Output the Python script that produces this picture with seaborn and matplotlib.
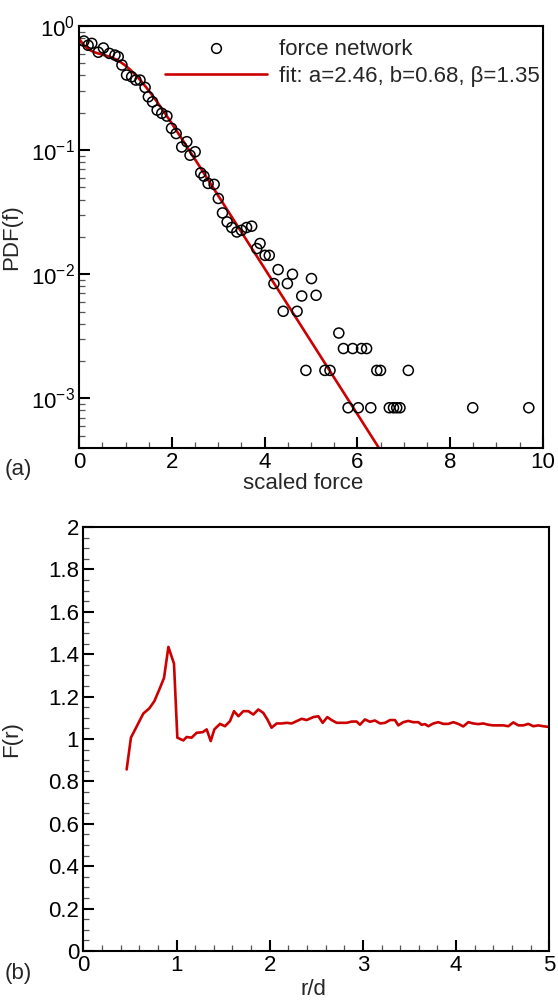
import numpy as np
import pandas as pd
import seaborn as sns
import matplotlib
matplotlib.use("Agg")
import matplotlib.pyplot as plt
from matplotlib.ticker import MultipleLocator, LogLocator, NullFormatter, FormatStrFormatter
from matplotlib.lines import Line2D

# ---------------- data: panel (a) ----------------
force_x = [0.10, 0.19, 0.27, 0.41, 0.52, 0.65, 0.77, 0.84, 0.92, 1.02, 1.13, 1.22, 1.31,
           1.42, 1.49, 1.58, 1.68, 1.78, 1.89, 1.99, 2.09, 2.21, 2.32, 2.39, 2.50, 2.62,
           2.69, 2.78, 2.91, 3.00, 3.09, 3.19, 3.29, 3.40, 3.50, 3.61, 3.72, 3.83, 3.90,
           4.01, 4.10, 4.20, 4.29, 4.40, 4.49, 4.60, 4.70, 4.80, 4.89, 5.01, 5.11, 5.30,
           5.41, 5.60, 5.70, 5.90, 6.09, 6.20, 6.42, 6.50, 7.10,
           5.80, 6.02, 6.29, 6.69, 6.78, 6.85, 6.92, 8.49, 9.70]
force_pdf = [0.757, 0.70, 0.725, 0.615, 0.665, 0.602, 0.583, 0.566, 0.485, 0.403, 0.390,
             0.367, 0.367, 0.320, 0.269, 0.245, 0.210, 0.198, 0.188, 0.150, 0.136, 0.106,
             0.117, 0.091, 0.097, 0.0656, 0.0617, 0.0539, 0.0530, 0.0408, 0.0312, 0.0264,
             0.0238, 0.0219, 0.0226, 0.0238, 0.0244, 0.0161, 0.0177, 0.0142, 0.0142,
             0.00841, 0.0109, 0.00503, 0.00841, 0.0100, 0.00503, 0.00668, 0.00168,
             0.00923, 0.00677, 0.00168, 0.00168, 0.00336, 0.00252, 0.00252, 0.00252,
             0.00252, 0.00168, 0.00168, 0.00168,
             0.00084, 0.00084, 0.00084, 0.00084, 0.00084, 0.00084, 0.00084, 0.00084, 0.00084]

fit_a, fit_b, fit_beta = 2.46, 0.68, 1.35

# ---------------- data: panel (b) ----------------
r_d = [0.465, 0.511, 0.644, 0.708, 0.762, 0.823, 0.866, 0.913, 0.973, 1.009, 1.073, 1.109,
       1.162, 1.216, 1.281, 1.324, 1.367, 1.406, 1.467, 1.520, 1.574, 1.617, 1.664, 1.717,
       1.771, 1.824, 1.878, 1.931, 1.975, 2.020, 2.075, 2.129, 2.182, 2.236, 2.289, 2.343,
       2.396, 2.468, 2.522, 2.568, 2.618, 2.664, 2.719, 2.772, 2.826, 2.880, 2.933, 2.968,
       3.022, 3.076, 3.129, 3.184, 3.237, 3.291, 3.344, 3.380, 3.433, 3.487, 3.540, 3.595,
       3.630, 3.666, 3.702, 3.756, 3.809, 3.863, 3.917, 3.970, 4.024, 4.077, 4.131, 4.184,
       4.238, 4.292, 4.345, 4.399, 4.453, 4.507, 4.560, 4.614, 4.668, 4.721, 4.775, 4.828,
       4.882, 4.935, 4.989]
F_r = [0.856, 1.006, 1.120, 1.144, 1.178, 1.241, 1.288, 1.434, 1.355, 1.006, 0.993, 1.009,
       1.006, 1.029, 1.032, 1.045, 0.990, 1.045, 1.071, 1.060, 1.084, 1.131, 1.107, 1.131,
       1.131, 1.115, 1.139, 1.123, 1.092, 1.053, 1.073, 1.073, 1.076, 1.073, 1.084, 1.095,
       1.089, 1.103, 1.107, 1.076, 1.103, 1.089, 1.076, 1.076, 1.076, 1.082, 1.082, 1.067,
       1.092, 1.081, 1.087, 1.073, 1.076, 1.089, 1.089, 1.064, 1.079, 1.085, 1.079, 1.079,
       1.067, 1.070, 1.060, 1.073, 1.079, 1.071, 1.071, 1.079, 1.071, 1.059, 1.079, 1.073,
       1.070, 1.073, 1.067, 1.064, 1.064, 1.064, 1.060, 1.078, 1.064, 1.064, 1.071, 1.060,
       1.064, 1.060, 1.057]

RED = "#cc0000"

sns.set_style("ticks")
plt.rcParams["font.family"] = ["Liberation Sans", "DejaVu Sans"]
plt.rcParams["mathtext.fontset"] = "custom"
plt.rcParams["mathtext.rm"] = "Liberation Sans"
plt.rcParams["mathtext.it"] = "Liberation Sans:italic"
plt.rcParams["mathtext.default"] = "regular"
plt.rcParams["axes.unicode_minus"] = False

FS = 16

fig = plt.figure(figsize=(5.58, 10.01), dpi=100)
ax1 = fig.add_axes([0.1421, 0.5527, 0.8305, 0.4213])
ax2 = fig.add_axes([0.1493, 0.0500, 0.8351, 0.4236])

# ---- panel (a) ----
df_pts = pd.DataFrame({"f": force_x, "pdf": force_pdf})
f_fit = np.linspace(0, 10, 500)
pdf_fit = fit_a * (1 - fit_b * np.exp(-f_fit ** 2)) * np.exp(-fit_beta * f_fit)
df_fit = pd.DataFrame({"f": f_fit, "pdf": pdf_fit})

sns.lineplot(data=df_fit, x="f", y="pdf", ax=ax1, color=RED, linewidth=1.9, zorder=2)
sns.scatterplot(data=df_pts, x="f", y="pdf", ax=ax1, marker="o", s=52,
                facecolor="none", edgecolor="black", linewidth=1.1, zorder=3)
ax1.set_yscale("log")
ax1.set_xlim(0, 10)
ax1.set_ylim(4e-4, 1)
ax1.xaxis.set_major_locator(MultipleLocator(2))
ax1.xaxis.set_minor_locator(MultipleLocator(0.5))
ax1.yaxis.set_major_locator(LogLocator(base=10, numticks=10))
ax1.yaxis.set_minor_locator(LogLocator(base=10, subs=np.arange(2, 10), numticks=20))
ax1.yaxis.set_minor_formatter(NullFormatter())
ax1.set_xlabel("scaled force", fontsize=FS)
ax1.set_ylabel("PDF(f)", fontsize=FS)
ax1.xaxis.set_label_coords(0.483, -0.060)
ax1.yaxis.set_label_coords(-0.124, 0.5)

handles = [Line2D([], [], linestyle="none", marker="o", markersize=7.0,
                  markerfacecolor="none", markeredgecolor="black", markeredgewidth=1.1),
           Line2D([], [], color=RED, linewidth=1.9)]
labels = ["force network",
          f"fit: a={fit_a:.2f}, b={fit_b:.2f}, \u03b2={fit_beta:.2f}"]
ax1.legend(handles, labels, loc="upper right", frameon=False, fontsize=FS,
           handlelength=4.6, handletextpad=0.55, labelspacing=0.25,
           borderaxespad=0.3, borderpad=0.3, bbox_to_anchor=(1.023, 1.0))

# ---- panel (b) ----
df_r = pd.DataFrame({"r": r_d, "F": F_r})
sns.lineplot(data=df_r, x="r", y="F", ax=ax2, color=RED, linewidth=1.9,
             sort=False, estimator=None)
ax2.set_xlim(0, 5)
ax2.set_ylim(0, 2)
ax2.xaxis.set_major_locator(MultipleLocator(1))
ax2.xaxis.set_minor_locator(MultipleLocator(0.2))
ax2.yaxis.set_major_locator(MultipleLocator(0.2))
ax2.yaxis.set_minor_locator(MultipleLocator(0.05))
ax2.yaxis.set_major_formatter(FormatStrFormatter("%g"))
ax2.set_xlabel("r/d", fontsize=FS)
ax2.set_ylabel("F(r)", fontsize=FS)
ax2.xaxis.set_label_coords(0.494, -0.066)
ax2.yaxis.set_label_coords(-0.1315, 0.5)

for ax in (ax1, ax2):
    for sp in ax.spines.values():
        sp.set_visible(True)
        sp.set_linewidth(1.5)
        sp.set_color("black")
    ax.tick_params(which="major", direction="in", length=8, width=1.5,
                   labelsize=FS, pad=3, top=False, right=False, colors="black")
    ax.tick_params(which="minor", direction="in", length=4.5, width=0.9,
                   top=False, right=False, color="#555555")

fig.text(0.032, 1 - 470 / 1001, "(a)", fontsize=FS, ha="center", va="center")
fig.text(0.032, 1 - 973 / 1001, "(b)", fontsize=FS, ha="center", va="center")

fig.savefig("out.png", dpi=100)
